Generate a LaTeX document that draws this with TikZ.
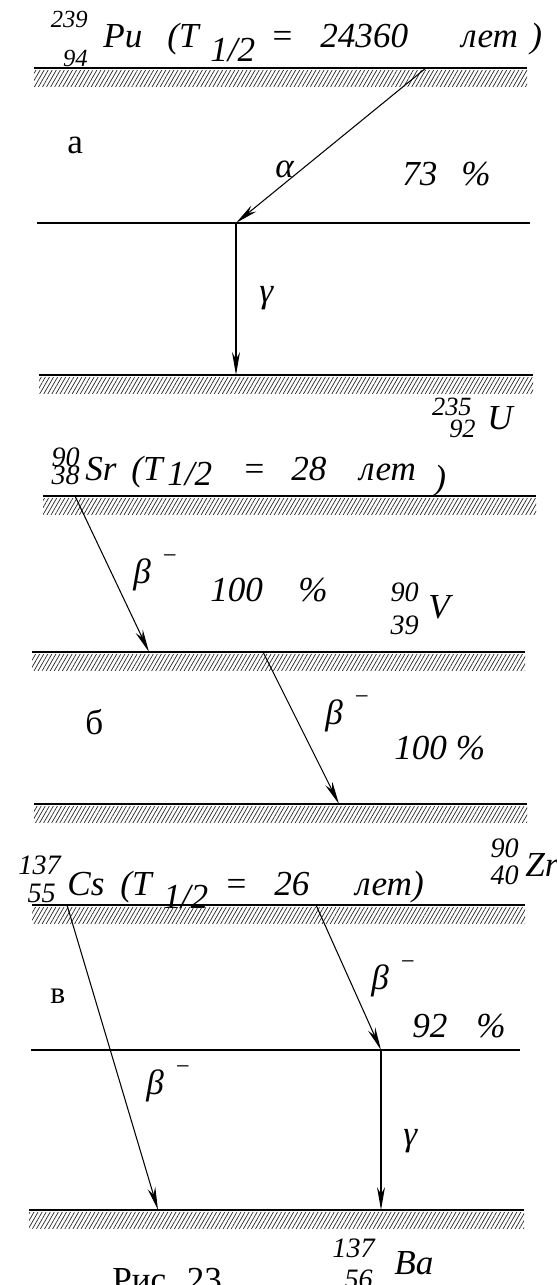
\documentclass[tikz,border=0pt]{standalone}
\usepackage{fontspec}
\setmainfont{Liberation Serif}
\usetikzlibrary{arrows.meta, patterns.meta}
\newcommand{\fsz}[1]{\fontsize{#1}{#1}\selectfont}
% beta minus with the raised sign
\newcommand{\betam}{β\hspace{.3em}\raisebox{.55em}{\scalebox{.7}{−}}}
\tikzset{
  lvl/.style={line width=.85pt},
  hatch/.style={draw=none,
    pattern={Lines[angle=60, distance=2pt, line width=.4pt]},
    pattern color=black!85},
  decay/.style={-{Stealth[length=13pt, width=4.5pt, inset=4pt]}, line width=.6pt},
  txt/.style={inner sep=0pt, anchor=base west, font=\fsz{20}\itshape},
  rm/.style={inner sep=0pt, anchor=base west, font=\fsz{20}},
  num/.style={inner sep=0pt, anchor=base east, font=\fsz{15}\itshape},
}
% ground level: a line with a hatched band under it
\newcommand{\groundlvl}[3]{%
  \draw[lvl] (#1,#3) -- (#2,#3);
  \fill[hatch] (#1,#3+2) rectangle (#2,#3+18);}

\begin{document}
\begin{tikzpicture}[x=0.02cm, y=-0.02cm]
  \useasboundingbox (0,0) rectangle (557,1285);

  % a: Pu-239
  \node[num, font=\fsz{14}\itshape] (puA) at (88,27) {239};
  \node[num, font=\fsz{14}\itshape] (puZ) at (88,66) {94};
  \node[txt] (puS) at (103,47) {Pu};
  \node[txt] (puT) at (167,47) {(T};
  \node[txt] (puH) at (210,61) {1/2};
  \node[txt] (puEq) at (270,47) {=};
  \node[txt] (puV) at (320,47) {24360};
  \node[txt] (puY) at (461,47) {лет};
  \node[txt] (puP) at (530,47) {)};
  \groundlvl{34}{527}{68}
  \draw[lvl] (37,223) -- (530,223);
  \groundlvl{39}{533}{375}
  \coordinate (puTop) at (426,68);
  \coordinate (uExc) at (236,223);
  \coordinate (uGnd) at (236,375);
  \draw[decay] (puTop) -- (uExc);
  \draw[decay] (uExc) -- (uGnd);
  \node[rm] (tagA) at (67,153) {а};
  \node[txt] (alpha) at (275,177) {α};
  \node[txt] (pctA) at (402,185) {73};
  \node[txt] (pctAs) at (461,185) {\%};
  \node[txt] (gamA) at (259,302) {γ};
  \node[num] (uA) at (472,415) {235};
  \node[num] (uZ) at (476,437) {92};
  \node[txt] (uS) at (487,429) {U};

  % б: Sr-90
  \node[num, font=\fsz{16}\itshape] (srA) at (80,466) {90};
  \node[num, font=\fsz{16}\itshape] (srZ) at (80,484) {38};
  \node[txt] (srS) at (85,480) {Sr};
  \node[txt] (srT) at (131,480) {(T};
  \node[txt] (srH) at (167,485) {1/2};
  \node[txt] (srEq) at (242,480) {=};
  \node[txt] (srV) at (291,480) {28};
  \node[txt] (srY) at (359,480) {лет};
  \node[txt] (srP) at (434,489) {)};
  \groundlvl{43}{536}{496}
  \groundlvl{32}{525}{652}
  \groundlvl{34}{527}{804}
  \coordinate (srTop) at (75,496);
  \coordinate (yGnd) at (149,652);
  \coordinate (yTop) at (263,652);
  \coordinate (zrGnd) at (339,804);
  \draw[decay] (srTop) -- (yGnd);
  \draw[decay] (yTop) -- (zrGnd);
  \node[txt] (betB1) at (133,583) {\betam};
  \node[txt] (pctB1) at (210,601) {100};
  \node[txt] (pctB1s) at (298,601) {\%};
  \node[num, font=\fsz{16}\itshape] (yA) at (419,601) {90};
  \node[num, font=\fsz{16}\itshape] (yZ) at (419,634) {39};
  \node[txt] (yS) at (428,618) {V};
  \node[rm] (tagB) at (85,734) {б};
  \node[txt] (betB2) at (325,724) {\betam};
  \node[txt] (pctB2) at (394,759) {100 \%};
  \node[num, font=\fsz{16}\itshape] (zrA) at (519,857) {90};
  \node[num, font=\fsz{16}\itshape] (zrZ) at (519,884) {40};
  \node[txt] (zrS) at (525,876) {Zr};

  % в: Cs-137
  \node[num, font=\fsz{16}\itshape] (csA) at (61,874) {137};
  \node[num, font=\fsz{16}\itshape] (csZ) at (56,902) {55};
  \node[txt] (csS) at (67,895) {Cs};
  \node[txt] (csT) at (120,895) {(T};
  \node[txt] (csH) at (163,908) {1/2};
  \node[txt] (csEq) at (224,895) {=};
  \node[txt] (csV) at (274,895) {26};
  \node[txt] (csY) at (355,895) {лет)};
  \groundlvl{32}{525}{905}
  \draw[lvl] (31,1050) -- (520,1050);
  \groundlvl{29}{524}{1210}
  \coordinate (csTopL) at (67,905);
  \coordinate (csTopR) at (316,905);
  \coordinate (baExc) at (381,1050);
  \coordinate (baGndL) at (158,1210);
  \coordinate (baGndR) at (381,1210);
  \draw[decay] (csTopL) -- (baGndL);
  \draw[decay] (csTopR) -- (baExc);
  \draw[decay] (baExc) -- (baGndR);
  \node[rm, font=\fsz{18}] (tagC) at (50,1003) {в};
  \node[txt] (betC1) at (371,989) {\betam};
  \node[txt] (pctC) at (412,1037) {92};
  \node[txt] (pctCs) at (476,1037) {\%};
  \node[txt] (betC2) at (146,1094) {\betam};
  \node[txt] (gamC) at (403,1145) {γ};
  \node[num, font=\fsz{16}\itshape] (baA) at (375,1257) {137};
  \node[num, font=\fsz{16}\itshape] (baZ) at (373,1288) {56};
  \node[txt] (baS) at (394,1274) {Ba};
  \node[rm] (fig) at (112,1291) {Рис. 23};
\end{tikzpicture}
\end{document}
